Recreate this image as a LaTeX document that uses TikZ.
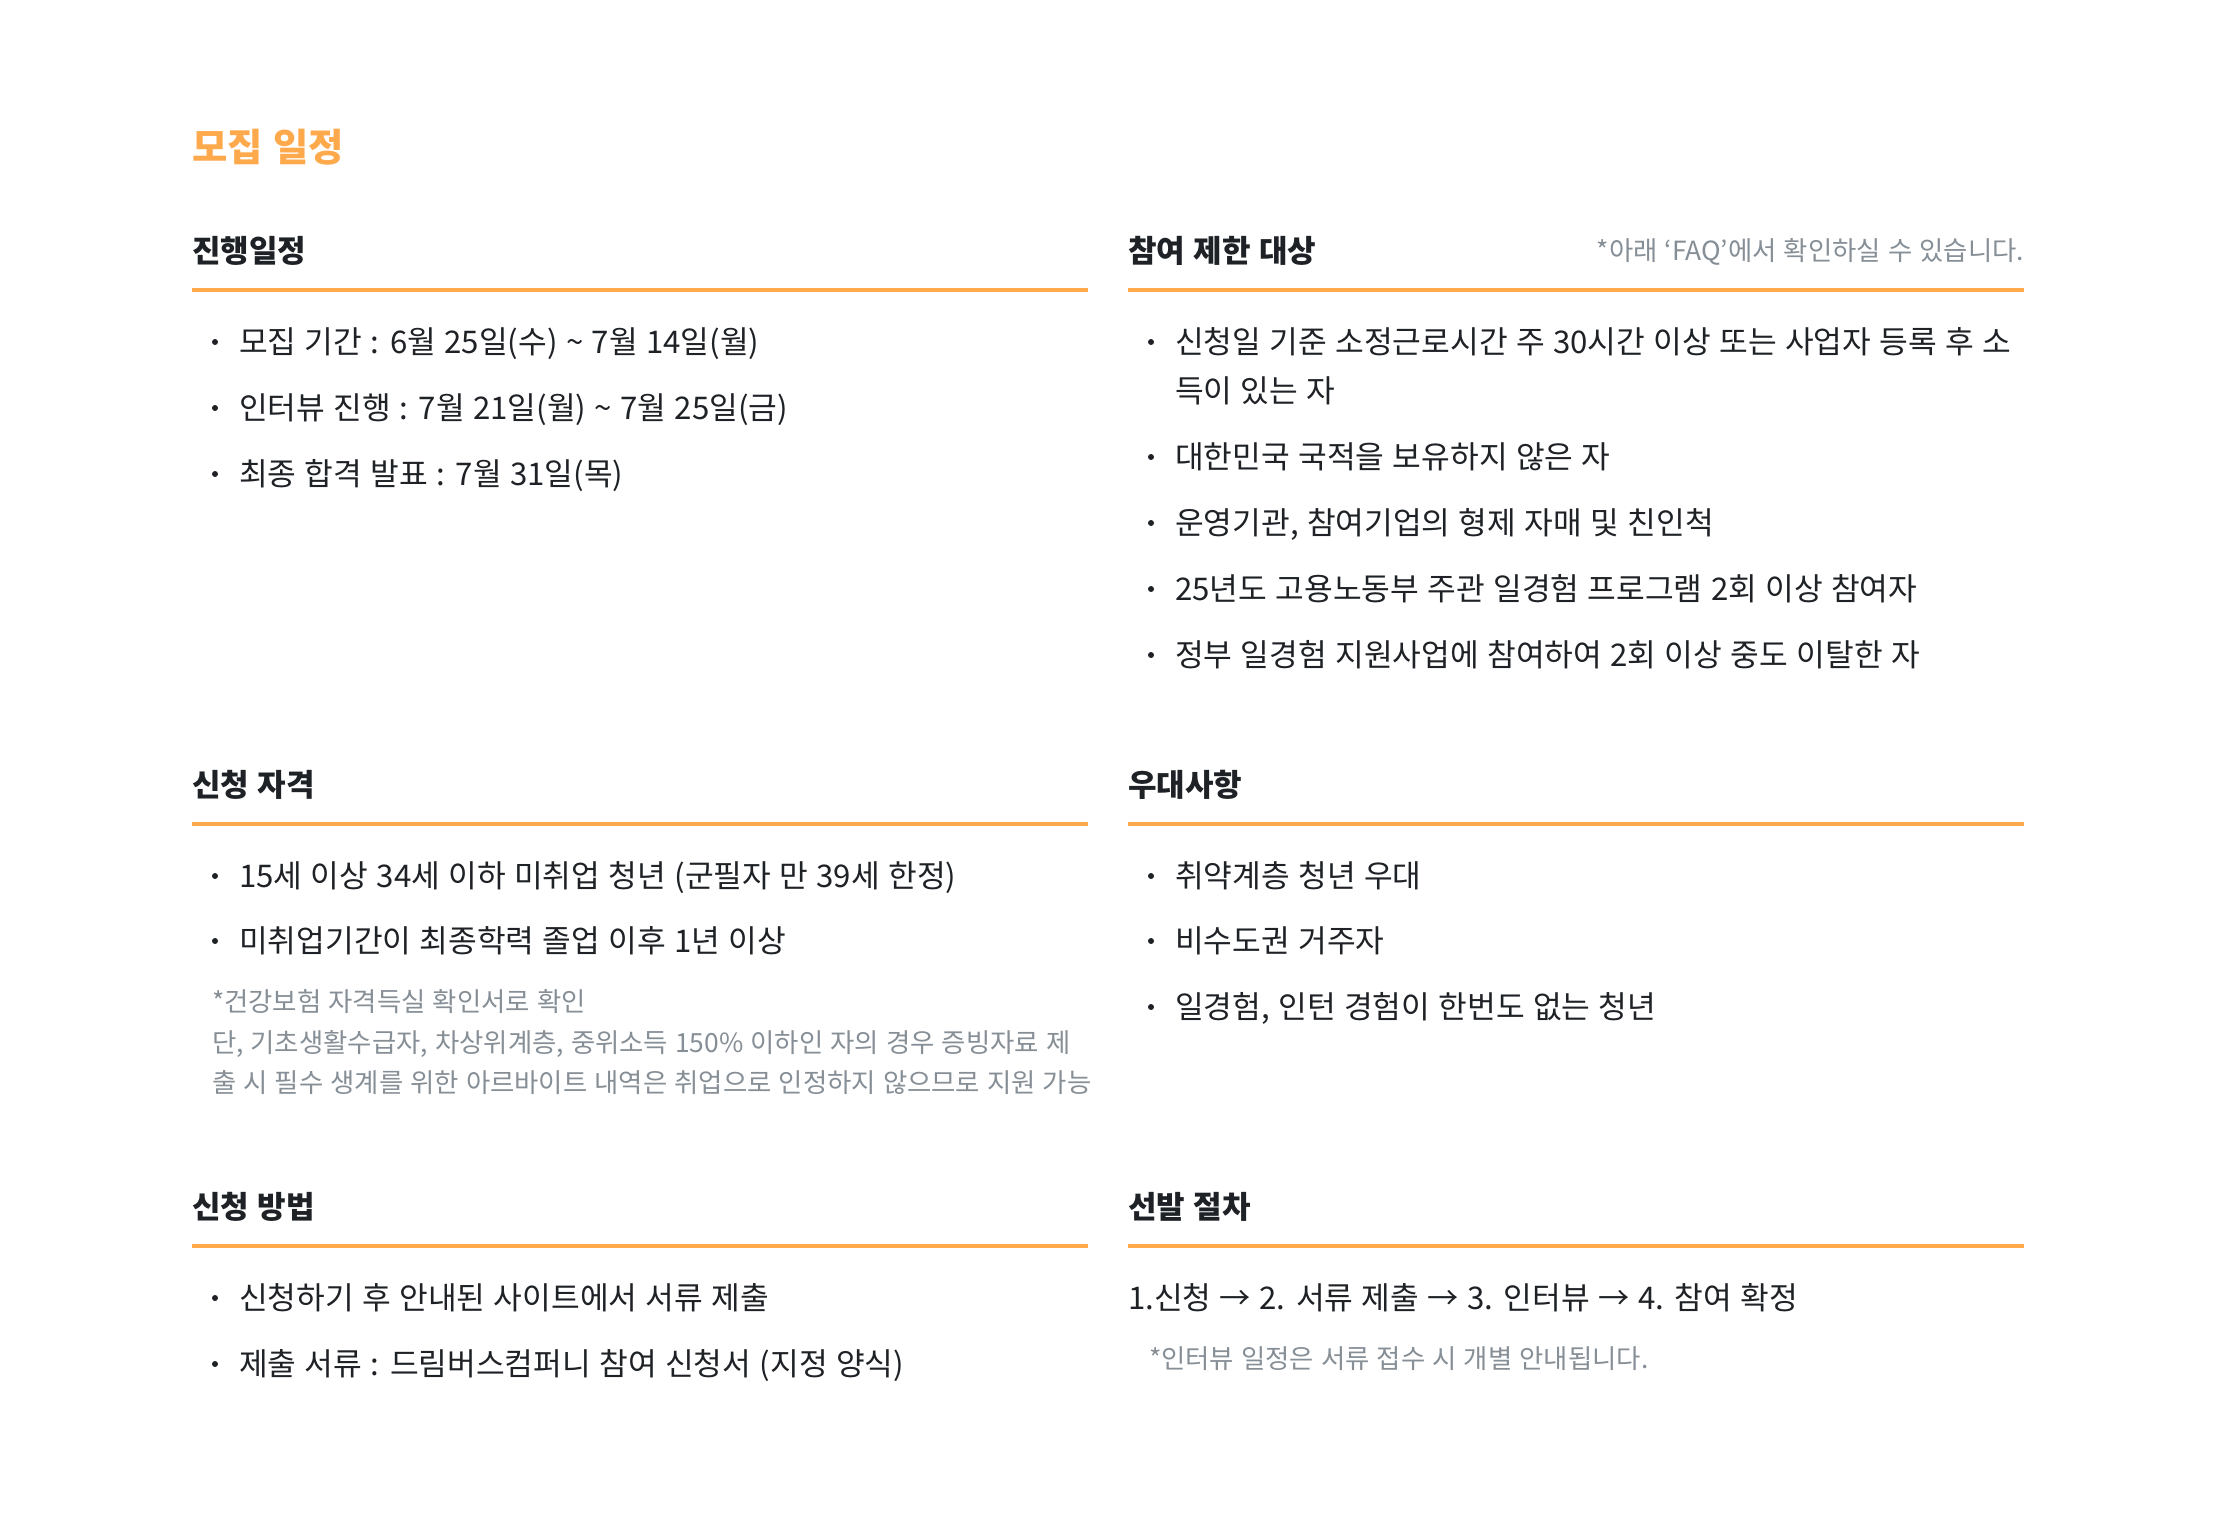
\documentclass[tikz,border=0pt]{standalone}
\usepackage{fontspec}
\setmainfont[WordSpace=1.2]{Noto Sans CJK KR}
\usetikzlibrary{positioning}
\definecolor{accent}{HTML}{FFA94D}
\definecolor{ink}{HTML}{1E2125}
\definecolor{muted}{HTML}{868E96}

\begin{document}
\begin{tikzpicture}
[x=0.5pt,y=-0.5pt,
 every node/.style={inner sep=0mm,outer sep=0mm,text=ink},
 title/.style={anchor=west,font=\fontsize{19.2pt}{22pt}\selectfont\bfseries,text=accent,text height=16.5pt,text depth=2.3pt},
 head/.style={anchor=west,font=\fontsize{15.5pt}{18pt}\selectfont\bfseries,text height=13.3pt,text depth=1.9pt},
 item/.style={anchor=west,font=\fontsize{15.6pt}{18pt}\selectfont,text height=13.4pt,text depth=1.9pt},
 note/.style={anchor=west,font=\fontsize{13.2pt}{16pt}\selectfont,text=muted,text height=11.3pt,text depth=1.6pt},
 bul/.style={circle,fill=ink,minimum size=3pt},
 rule/.style={draw=accent,line width=2pt}]
\fill[white] (0,0) rectangle (2216,1532);
\useasboundingbox (0,0) rectangle (2216,1532);
% title
\node[title] (t0) at (192,147) {모집 일정};
% section 1
\node[head] (h1) at (192,251)  {진행일정};
\node[head] (h2) at (1128,251) {참여 제한 대상};
\node[note,anchor=east] (n0) at (2024,251) {*아래 ‘FAQ’에서 확인하실 수 있습니다.};
\draw[rule] (192,290)  -- (1088,290);
\draw[rule] (1128,290) -- (2024,290);
\node[bul] (a1) at (215,342) {};
\node[bul] (a2) [on grid,below=33pt of a1] {};
\node[bul] (a3) [on grid,below=33pt of a2] {};
\node[item,right=10.6pt of a1] (a1t) {모집 기간 : 6월 25일(수) \textasciitilde{} 7월 14일(월)};
\node[item,right=10.6pt of a2] (a2t) {인터뷰 진행 : 7월 21일(월) \textasciitilde{} 7월 25일(금)};
\node[item,right=10.6pt of a3] (a3t) {최종 합격 발표 : 7월 31일(목)};
\node[bul] (b1) at (1151,342) {};
\node[bul] (b2) [on grid,below=57.5pt of b1] {};
\node[bul] (b3) [on grid,below=33pt of b2] {};
\node[bul] (b4) [on grid,below=33pt of b3] {};
\node[bul] (b5) [on grid,below=33pt of b4] {};
\node[item,right=10.6pt of b1] (b1t) {신청일 기준 소정근로시간 주 30시간 이상 또는 사업자 등록 후 소};
\node[item] (b1u) at ([yshift=-24.5pt]b1t.west) {득이 있는 자};
\node[item,right=10.6pt of b2] (b2t) {대한민국 국적을 보유하지 않은 자};
\node[item,right=10.6pt of b3] (b3t) {운영기관, 참여기업의 형제 자매 및 친인척};
\node[item,right=10.6pt of b4] (b4t) {25년도 고용노동부 주관 일경험 프로그램 2회 이상 참여자};
\node[item,right=10.6pt of b5] (b5t) {정부 일경험 지원사업에 참여하여 2회 이상 중도 이탈한 자};
% section 2
\node[head] (h3) at (192,785)  {신청 자격};
\node[head] (h4) at (1128,785) {우대사항};
\draw[rule] (192,824)  -- (1088,824);
\draw[rule] (1128,824) -- (2024,824);
\node[bul] (c1) at (215,876) {};
\node[bul] (c2) [on grid,below=32.5pt of c1] {};
\node[item,right=10.6pt of c1] (c1t) {15세 이상 34세 이하 미취업 청년 (군필자 만 39세 한정)};
\node[item,right=10.6pt of c2] (c2t) {미취업기간이 최종학력 졸업 이후 1년 이상};
\node[note] (c3) at (212,1002) {*건강보험 자격득실 확인서로 확인};
\node[note] (c4) at ([yshift=-20.5pt]c3.west) {단, 기초생활수급자, 차상위계층, 중위소득 150\% 이하인 자의 경우 증빙자료 제};
\node[note] (c5) at ([yshift=-20pt]c4.west) {출 시 필수 생계를 위한 아르바이트 내역은 취업으로 인정하지 않으므로 지원 가능};
\node[bul] (d1) at (1151,876) {};
\node[bul] (d2) [on grid,below=32.5pt of d1] {};
\node[bul] (d3) [on grid,below=33pt of d2] {};
\node[item,right=10.6pt of d1] (d1t) {취약계층 청년 우대};
\node[item,right=10.6pt of d2] (d2t) {비수도권 거주자};
\node[item,right=10.6pt of d3] (d3t) {일경험, 인턴 경험이 한번도 없는 청년};
% section 3
\node[head] (h5) at (192,1207)  {신청 방법};
\node[head] (h6) at (1128,1207) {선발 절차};
\draw[rule] (192,1245.5)  -- (1088,1245.5);
\draw[rule] (1128,1245.5) -- (2024,1245.5);
\node[bul] (e1) at (215,1298) {};
\node[bul] (e2) [on grid,below=33pt of e1] {};
\node[item,right=10.6pt of e1] (e1t) {신청하기 후 안내된 사이트에서 서류 제출};
\node[item,right=10.6pt of e2] (e2t) {제출 서류 : 드림버스컴퍼니 참여 신청서 (지정 양식)};
\node[item] (f1) at (1128,1298) {1.신청 → 2. 서류 제출 → 3. 인터뷰 → 4. 참여 확정};
\node[note] (f2) at (1149,1359) {*인터뷰 일정은 서류 접수 시 개별 안내됩니다.};
\end{tikzpicture}
\end{document}
